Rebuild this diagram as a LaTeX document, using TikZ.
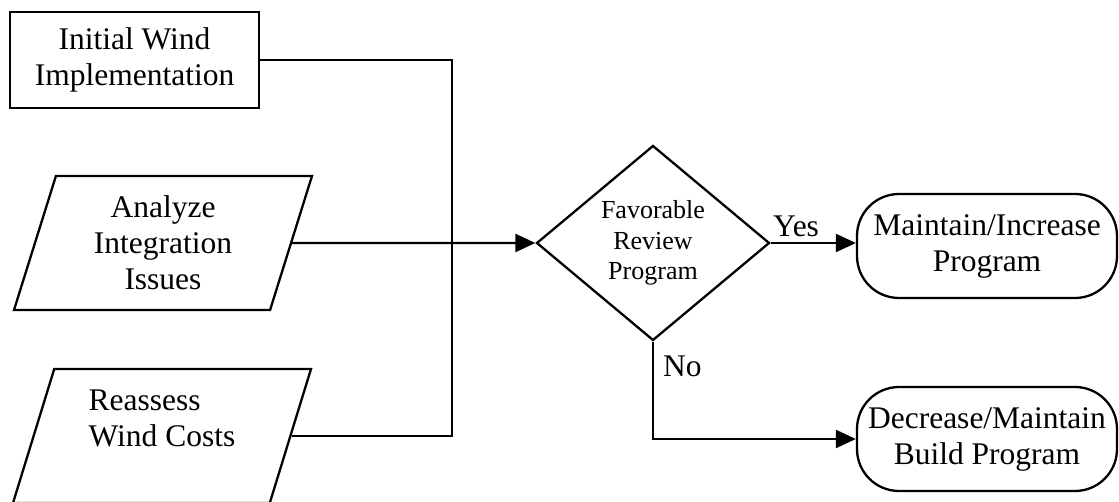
\documentclass[tikz,border=0pt]{standalone}
\usepackage{fontspec}
\setmainfont{Liberation Serif}
\usetikzlibrary{shapes.geometric,arrows.meta}
\begin{document}
\begin{tikzpicture}[x=1pt,y=-1pt,
  line width=2.3pt,
  every node/.style={font=\fontsize{31.5}{36}\selectfont, align=center},
  box/.style={draw, rectangle, minimum width=249pt, minimum height=96pt, inner sep=0pt},
  io/.style={draw, trapezium, trapezium left angle=66, trapezium right angle=114, trapezium stretches body, minimum width=298pt, minimum height=134pt, inner sep=0pt},
  decision/.style={draw, diamond, minimum width=233pt, minimum height=195pt, inner sep=0pt, aspect=1.195, font=\fontsize{26}{30.5}\selectfont},
  terminal/.style={draw, rectangle, rounded corners=42pt, minimum width=260pt, minimum height=104pt, inner sep=0pt},
  arr/.style={-{Triangle[length=20pt,width=18pt]}},
  lbl/.style={inner sep=0pt, anchor=base west}
]
\useasboundingbox (0,0) rectangle (1119,502);
\node[box] (init) at (134.5,60) {Initial Wind\\Implementation};
\node[io] (analyze) at (163,243) {Analyze\\Integration\\Issues};
\node[io, align=left] (reassess) at (162,436) {Reassess\\Wind Costs\\\mbox{}};
\node[decision] (dec) at (653,243) {\raisebox{-4pt}{\begin{tabular}{@{}c@{}}Favorable\\Review\\Program\end{tabular}}};
\node[terminal] (maintain) at (987,246) {Maintain/Increase\\Program};
\node[terminal] (decrease) at (987,439) {Decrease/Maintain\\Build Program};
\coordinate (bus) at (452,0);
\draw (init.east) -| (bus |- reassess.east) -- (reassess.east);
\draw[arr] (analyze.east) -- (dec.west);
\draw[arr] (dec.east) -- (dec.east -| maintain.west);
\draw[arr] (dec.south) |- (decrease.west);
\node[lbl] (yes) at (772,237) {Yes};
\node[lbl] (no) at (662,377) {No};
\end{tikzpicture}
\end{document}
